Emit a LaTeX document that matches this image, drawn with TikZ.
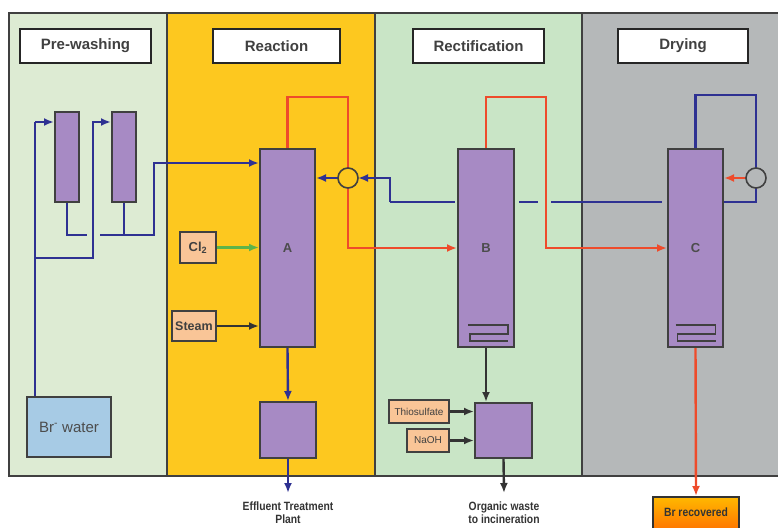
\documentclass[tikz,border=0pt]{standalone}
\usepackage{fontspec}
\setmainfont{Liberation Sans}
\newfontfamily\narrowfont[FakeStretch=0.86]{Liberation Sans}
\usetikzlibrary{arrows.meta}
\definecolor{pwbg}{HTML}{DDEBD3}
\definecolor{rxbg}{HTML}{FDC81F}
\definecolor{rcbg}{HTML}{C9E5C6}
\definecolor{drbg}{HTML}{B5B8B9}
\definecolor{purp}{HTML}{A78AC4}
\definecolor{peach}{HTML}{F9C597}
\definecolor{bline}{HTML}{2E3192}
\definecolor{rline}{HTML}{EE4B2B}
\definecolor{gline}{HTML}{5DB44A}
\definecolor{bwfill}{HTML}{A7CBE5}
\definecolor{edge}{HTML}{404040}
\tikzset{
  panelline/.style={draw=edge, line width=1.5pt},
  header/.style={draw=black!85, line width=2.2pt, fill=white, inner sep=0pt,
    font=\fontsize{15}{18}\selectfont\bfseries, text=black!75},
  col/.style={draw=edge, line width=2pt, fill=purp, inner sep=0pt,
    font=\fontsize{13}{15}\selectfont\bfseries, text=black!70},
  feed/.style={draw=edge, line width=1.6pt, fill=peach, inner sep=0pt, text=black!75},
  valve/.style={circle, draw=edge, line width=1.6pt, minimum size=20pt, inner sep=0pt},
  bl/.style={draw=bline, line width=2.4pt},
  tip/.style={-{Latex[length=10pt,width=8pt]}},
  bla/.style={bl, tip},
  rd/.style={draw=rline, line width=2.4pt},
  rda/.style={rd, tip},
  bka/.style={draw=black!80, line width=2.4pt, tip},
  gra/.style={draw=gline, line width=2.4pt, tip},
  outtext/.style={font=\fontsize{12}{13}\selectfont\narrowfont\bfseries, text=black!80, align=center, inner sep=0pt},
}
\begin{document}
\begin{tikzpicture}[x=1pt,y=-1pt]
\useasboundingbox (0,0) rectangle (778,527);
% panels
\fill[pwbg] (9,13) rectangle (167,476);
\fill[rxbg] (167,13) rectangle (375,476);
\fill[rcbg] (375,13) rectangle (582,476);
\fill[drbg] (582,13) rectangle (778,476);
\draw[panelline] (778,13) -- (9,13) -- (9,476) -- (778,476);
\draw[panelline] (167,13) -- (167,476);
\draw[panelline] (375,13) -- (375,476);
\draw[panelline] (582,13) -- (582,476);
% headers
\node[header, minimum width=131pt, minimum height=34pt] (hpw) at (85.5,46) {\raisebox{-1.5pt}{Pre-washing}};
\node[header, minimum width=127pt, minimum height=34pt] (hrx) at (276.5,46) {\raisebox{-1.5pt}{Reaction}};
\node[header, minimum width=131pt, minimum height=34pt] (hrc) at (478.5,46) {\raisebox{-1.5pt}{Rectification}};
\node[header, minimum width=130pt, minimum height=34pt] (hdr) at (683,46) {\raisebox{-1.5pt}{Drying}};
% columns
\node[col, minimum width=24pt, minimum height=90pt] (col1) at (67,157) {};
\node[col, minimum width=24pt, minimum height=90pt] (col2) at (124,157) {};
\node[col, minimum width=55pt, minimum height=198pt] (A) at (287.5,248) {A};
\node[col, minimum width=56pt, minimum height=198pt] (B) at (486,248) {B};
\node[col, minimum width=55pt, minimum height=198pt] (C) at (695.5,248) {C};
\node[col, minimum width=56pt, minimum height=56pt] (eff) at (288,430) {};
\node[col, minimum width=57pt, minimum height=55pt] (mix) at (503.5,430.5) {};
% coils
\draw[draw=edge, line width=1.5pt] ([shift={(-18,-23)}]B.south) -- ++(40,0) -- ++(0,9) -- ++(-38,0) -- ++(0,7) -- ++(38,0);
\draw[draw=edge, line width=1.5pt] ([shift={(-20,-23)}]C.south) -- ++(40,0) -- ++(0,9) -- ++(-38,0) -- ++(0,7) -- ++(38,0);
% feeds
\node[draw=edge, line width=1.6pt, fill=bwfill, inner sep=0pt, minimum width=84pt, minimum height=60pt,
  font=\fontsize{15}{18}\selectfont, text=black!70] (bw) at (69,427) {Br\textsuperscript{-} water};
\node[feed, minimum width=36pt, minimum height=31pt, font=\fontsize{13}{15}\selectfont\bfseries] (cl) at (198,247.5) {Cl\textsubscript{2}};
\node[feed, minimum width=44pt, minimum height=30pt, font=\fontsize{12.5}{15}\selectfont\bfseries] (st) at (194,326) {Steam};
\node[feed, minimum width=60pt, minimum height=23pt, font=\fontsize{10}{12}\selectfont] (thio) at (419,411.5) {Thiosulfate};
\node[feed, minimum width=42pt, minimum height=23pt, font=\fontsize{10}{12}\selectfont] (naoh) at (428,440.5) {NaOH};
\node[draw=black!80, line width=1.5pt, top color=orange!55!yellow, bottom color=orange!90!red,
  inner sep=0pt, minimum width=86pt, minimum height=34pt, anchor=north,
  font=\fontsize{12}{13}\selectfont\narrowfont\bfseries, text=black!80] (brr) at (696,496) {\raisebox{3pt}{Br recovered}};
% output texts
\node[outtext] (efftxt) at (288,513) {Effluent Treatment\\Plant};
\node[outtext] (orgtxt) at (504,513) {Organic waste\\to incineration};
% pre-washing connections
\coordinate (p1) at (35,122);
\coordinate (p2) at (35,258);
\coordinate (p3) at (93,258);
\coordinate (p4) at (93,122);
\draw[bl] (bw.north -| p1) -- (p2) -- (p1);
\draw[bla] (p1) -- (p1 -| col1.west);
\draw[bla] (p2) -- (p3) -- (p4) -- (p4 -| col2.west);
\coordinate (q1) at (87,235);
\coordinate (q0) at (100,235);
\coordinate (q2) at (154,235);
\coordinate (q3) at (154,163);
\draw[bl] (col1.south) -- (col1.south |- q1) -- (q1);
\draw[bl] (col2.south) -- (col2.south |- q2);
\draw[bla] (q0) -- (q2) -- (q3) -- (q3 -| A.west);
% reaction
\draw[gra] (cl.east) -- (cl.east -| A.west);
\draw[bka] (st.east) -- (st.east -| A.west);
\draw[bla] (A.south) -- (eff.north);
\coordinate (effend) at (288,493);
\draw[bla] (eff.south) -- (effend);
% red lines
\coordinate (r1) at (348,97);
\coordinate (r2) at (546,97);
\draw[rda] (A.north) |- (r1) -- (r1 |- B.west) -- (B.west);
\draw[rda] (B.north) |- (r2) -- (r2 |- C.west) -- (C.west);
% valves (positions)
\coordinate (v1c) at (348,178);
\coordinate (v2c) at (756,178);
% blue return
\coordinate (b1) at (390,202);
\coordinate (b2) at (390,178);
\coordinate (v1e) at (358,178);
\coordinate (v1w) at (338,178);
\coordinate (b0) at (455,202);
\draw[bl] (b0) -- (b1);
\draw[bla] (b1) -- (b2) -- (v1e);
\draw[bla] (v1w) -- (v1w -| A.east);
\coordinate (d1) at (519,202);
\coordinate (d2) at (538,202);
\coordinate (d3) at (551,202);
\coordinate (d4) at (662,202);
\draw[bl] (d1) -- (d2);
\draw[bl] (d3) -- (d4);
\coordinate (e1) at (756,202);
\coordinate (e2) at (756,95);
\coordinate (v2s) at (756,188);
\coordinate (v2n) at (756,168);
\coordinate (v2w) at (746,178);
\draw[bl] (b1 -| C.east) -- (e1) -- (v2s);
\draw[bl] (v2n) -- (e2) -- (e2 -| C.north) -- (C.north);
\draw[rda] (v2w) -- (v2w -| C.east);
% valves
\node[valve, fill=rxbg] (v1) at (v1c) {};
\node[valve, fill=drbg] (v2) at (v2c) {};
% rectification
\draw[bka] (B.south) -- (B.south |- mix.north);
\draw[bka] (thio.east) -- (thio.east -| mix.west);
\draw[bka] (naoh.east) -- (naoh.east -| mix.west);
\coordinate (orgend) at (504,493);
\draw[bka] (mix.south) -- (orgend);
% drying
\draw[rda] (C.south) -- (brr.north);
\end{tikzpicture}
\end{document}
